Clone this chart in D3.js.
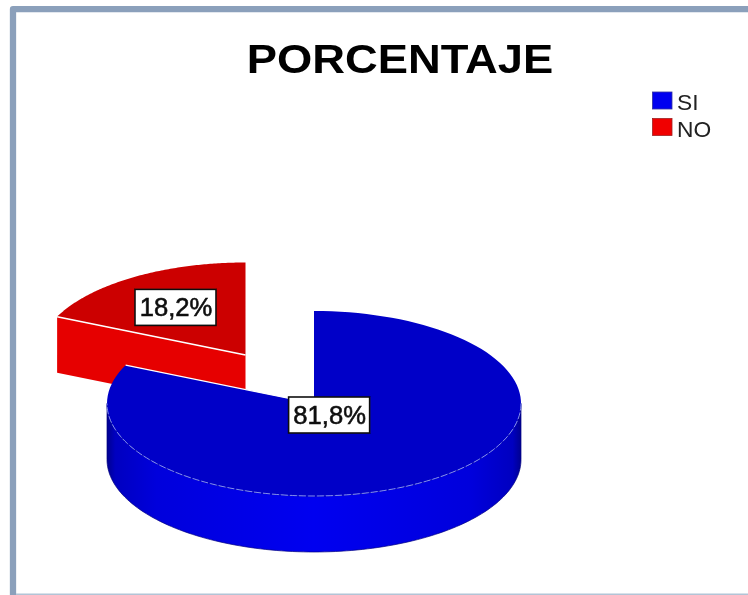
<!DOCTYPE html>
<html><head><meta charset="utf-8">
<script src="https://cdnjs.cloudflare.com/ajax/libs/d3/7.8.5/d3.min.js"></script>
<style>html,body{margin:0;padding:0;background:#fff}svg{display:block}text{font-family:"Liberation Sans",Arial,sans-serif}</style>
</head><body><svg id="c" width="748" height="595"></svg>
<script>
const categories = ["SI", "NO"];
const values = [81.8, 18.2];
const labels = ["81,8%", "18,2%"];
const titleText = "PORCENTAJE";

const svg = d3.select("#c");
const W = 748, H = 595;
const rx = 207, ry = 92.5, depth = 56;
const blueC = [314, 403.5], redC = [245.5, 355];
const topCol = ["#0000c8", "#cc0000"], sideCol = ["#0000e6", "#e60000"], keyCol = ["#0000f0", "#f00000"];

const slices = d3.pie().sort(null).value(d => d)(values);
const px = (c, a, f = 1) => [c[0] + rx * f * Math.sin(a), c[1] - ry * f * Math.cos(a)];
const arcPts = (c, a0, a1, dy = 0) => d3.range(0, 121).map(i => {
  const a = a0 + (a1 - a0) * i / 120, p = px(c, a); return [p[0], p[1] + dy];
});
const line = d3.line();
const defs = svg.append("defs");
const grad = defs.append("linearGradient").attr("id", "wall");
[[0, "#000090"], [0.02, "#0000c0"], [0.12, "#0000dc"], [0.5, "#0000f0"], [0.88, "#0000dc"], [0.98, "#0000c0"], [1, "#000090"]]
  .forEach(([o, c]) => grad.append("stop").attr("offset", o).attr("stop-color", c));
defs.append("filter").attr("id", "soft").append("feGaussianBlur").attr("stdDeviation", 0.45);
defs.append("filter").attr("id", "softer").append("feGaussianBlur").attr("stdDeviation", 0.35);

// frame
svg.append("path").attr("fill", "none").attr("stroke", "#8ba0bb").attr("stroke-width", 6.3).attr("stroke-linejoin", "round")
  .attr("d", `M13,${H} L13,9.2 L${W},9.2`);
svg.append("rect").attr("x", 16).attr("y", 593.5).attr("width", W - 16).attr("height", 1.5).attr("fill", "#b2c4d6");

const g = svg.append("g").attr("filter", "url(#soft)");

// red slice
const red = slices[1];
const rA = px(redC, red.startAngle);
g.append("path").attr("fill", sideCol[1])
  .attr("d", line([rA, redC, [redC[0], redC[1] + depth], [rA[0], rA[1] + depth]]) + "Z");
g.append("path").attr("fill", topCol[1])
  .attr("d", line([redC, ...arcPts(redC, red.startAngle, red.endAngle)]) + "Z");
g.append("path").attr("stroke", "#fff").attr("stroke-width", 1.6).attr("fill", "none")
  .attr("d", line([rA, redC]));

// blue slice
const blue = slices[0];
const front = [...arcPts(blueC, Math.PI / 2, 3 * Math.PI / 2), ...arcPts(blueC, 3 * Math.PI / 2, Math.PI / 2, depth)];
g.append("path").attr("fill", "url(#wall)").attr("stroke", "#000080").attr("stroke-width", 0.7)
  .attr("d", line(front) + "Z");
g.append("path").attr("fill", topCol[0])
  .attr("d", line([blueC, ...arcPts(blueC, blue.startAngle, blue.endAngle)]) + "Z");
g.append("path").attr("fill", "none").attr("stroke", "#8f9cf5").attr("stroke-width", 0.9).attr("stroke-dasharray", "7 2")
  .attr("d", line(arcPts(blueC, Math.PI / 2, 3 * Math.PI / 2)));
g.append("path").attr("fill", "none").attr("stroke", "#fff").attr("stroke-width", 1.2)
  .attr("d", line([blueC, px(blueC, blue.endAngle)]));

// labels
const labelFrac = [0.135, 0.625], labelC = [blueC, redC];
slices.forEach((s, i) => {
  const p = px(labelC[i], (s.startAngle + s.endAngle) / 2, labelFrac[i]);
  const w = 81, h = 36;
  const lg = svg.append("g").attr("filter", "url(#softer)").attr("transform", `translate(${p[0]},${p[1] + 1})`);
  lg.append("rect").attr("x", -w / 2).attr("y", -h / 2).attr("width", w).attr("height", h)
    .attr("fill", "#fff").attr("stroke", "#111").attr("stroke-width", 1.6);
  lg.append("text").attr("text-anchor", "middle").attr("x", 0.5).attr("y", 9).attr("font-size", 25.6)
    .attr("fill", "#111").attr("stroke", "#111").attr("stroke-width", 0.6).text(labels[i]);
});

// title
svg.append("text").attr("filter", "url(#softer)").attr("transform", "translate(400,73) scale(1.12,1)")
  .attr("text-anchor", "middle").attr("font-size", 40.5).attr("font-weight", "bold").attr("fill", "#000").text(titleText);

// legend
const ky = d3.scalePoint().domain(categories).range([100.5, 127]);
categories.forEach((c, i) => {
  svg.append("rect").attr("x", 652.5).attr("y", ky(c) - 8.5).attr("width", 19.5).attr("height", 17)
    .attr("fill", keyCol[i]).attr("stroke", i ? "#a02020" : "#3030a0").attr("stroke-width", 0.8).attr("filter", "url(#softer)");
  svg.append("text").attr("filter", "url(#softer)").attr("transform", `translate(677,${ky(c) + 9.7}) scale(1.07,1)`)
    .attr("font-size", 21.3).attr("fill", "#222").text(c);
});
</script></body></html>
